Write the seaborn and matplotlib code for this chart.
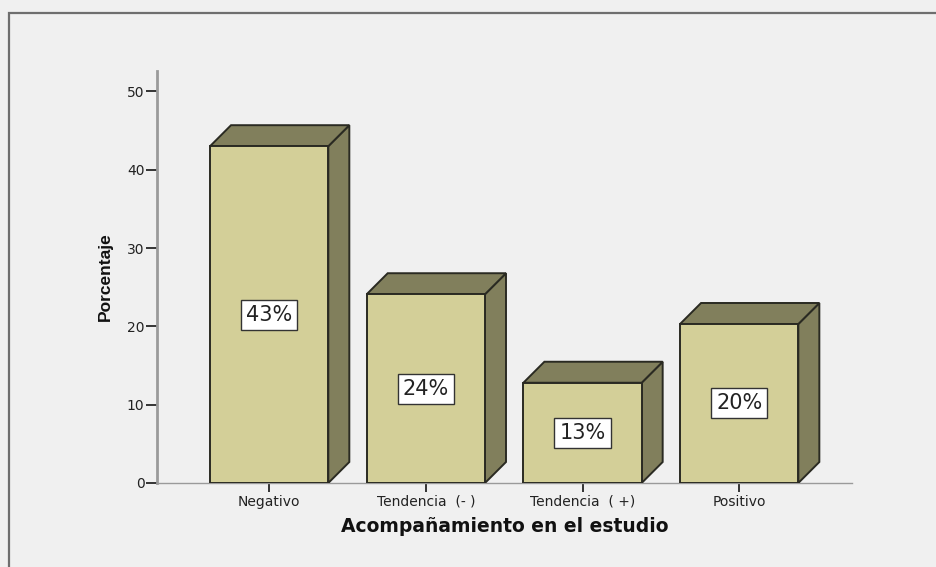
import matplotlib
matplotlib.use("Agg")
import matplotlib.pyplot as plt
from matplotlib.patches import Polygon, Rectangle
import seaborn as sns
import pandas as pd

categories = ["Negativo", "Tendencia  (- )", "Tendencia  ( +)", "Positivo"]
values = [43.0, 24.1, 12.8, 20.3]
labels = ["43%", "24%", "13%", "20%"]
yticks = [0, 10, 20, 30, 40, 50]

BG = "#f0f0f0"
FRONT = "#d3cf98"
SIDE = "#817f5c"
EDGE = "#2a2a22"

sns.set_theme(style="white")
plt.rcParams["font.family"] = ["DejaVu Sans"]

fig = plt.figure(figsize=(9.36, 5.67), dpi=100, facecolor=BG)
ax = fig.add_axes([157 / 936, 84 / 567, 695 / 936, 412 / 567])
ax.set_facecolor(BG)

df = pd.DataFrame({"cat": categories, "val": values})
sns.barplot(data=df, x="cat", y="val", color=FRONT, saturation=1, width=0.755,
            edgecolor=EDGE, linewidth=1.4, ax=ax, zorder=3)

ax.set_xlim(-0.716, 3.72)
ax.set_ylim(0, 52.6)
ax.set_yticks(yticks)

# depth offsets (21 px right, 21 px up) converted to data units
p0 = ax.transData.transform((0, 0))
inv = ax.transData.inverted()
q = inv.transform((p0[0] + 21, p0[1] + 21))
dx, dy = q[0] - inv.transform(p0)[0], q[1] - inv.transform(p0)[1]

for p, lab in zip(ax.patches, labels):
    x0, w, h = p.get_x(), p.get_width(), p.get_height()
    side = Polygon([(x0 + w, 0), (x0 + w + dx, dy), (x0 + w + dx, h + dy), (x0 + w, h)],
                   closed=True, facecolor=SIDE, edgecolor=EDGE, linewidth=1.4, zorder=2.5)
    top = Polygon([(x0, h), (x0 + dx, h + dy), (x0 + w + dx, h + dy), (x0 + w, h)],
                  closed=True, facecolor=SIDE, edgecolor=EDGE, linewidth=1.4, zorder=2.5)
    ax.add_patch(side)
    ax.add_patch(top)
    ax.text(x0 + w / 2, h / 2, lab, ha="center", va="center", fontsize=15,
            color="#222222", zorder=5,
            bbox=dict(boxstyle="square,pad=0.24", facecolor="white",
                      edgecolor="#333333", linewidth=1.0))

for s in ["top", "right"]:
    ax.spines[s].set_visible(False)
ax.spines["left"].set_color("#9a9a9a")
ax.spines["left"].set_linewidth(2.0)
ax.spines["bottom"].set_color("#9a9a9a")
ax.spines["bottom"].set_linewidth(1.0)
ax.spines["bottom"].set_zorder(1)

ax.tick_params(axis="y", direction="out", length=8, width=1.4, color="#333333",
               pad=1, labelsize=10, labelcolor="#222222", left=True)
ax.tick_params(axis="x", direction="out", length=6.5, width=1.4, color="#333333",
               pad=2, labelsize=10, labelcolor="#222222", bottom=True)

ax.set_xlabel("Acompañamiento en el estudio", fontsize=13.5, fontweight="bold",
              color="#111111", labelpad=6)
ax.set_ylabel("Porcentaje", fontsize=12.5, fontweight="bold", color="#111111",
              labelpad=10, family=["Liberation Sans", "DejaVu Sans"])
ax.grid(False)

# outer frame (left and top edges visible)
fig.patches.append(Rectangle((8.5 / 936, -0.1), 1.2, (567 - 12.5) / 567 + 0.1,
                             transform=fig.transFigure, fill=False,
                             edgecolor="#6e6e6e", linewidth=1.6))

fig.savefig("out.png", dpi=100, facecolor=BG)
